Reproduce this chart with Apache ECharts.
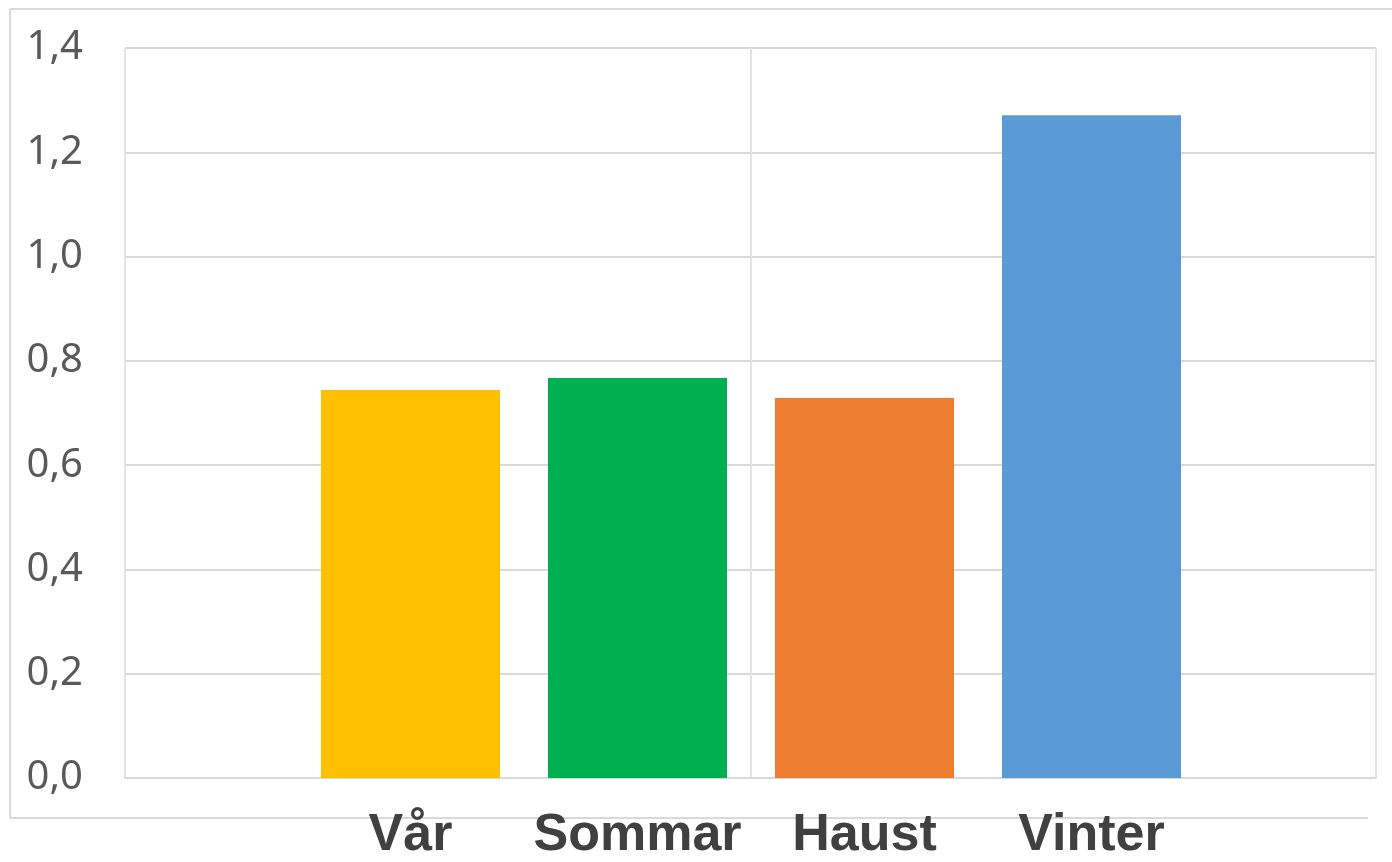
<!DOCTYPE html>
<html>
<head>
<meta charset="utf-8">
<script src="https://cdn.jsdelivr.net/npm/echarts@6/dist/echarts.min.js"></script>
<style>
  html, body { margin: 0; padding: 0; background: #fff; }
  #chart { width: 1392px; height: 862px; }
</style>
</head>
<body>
<div id="chart"></div>
<script>
// data
const seasons = ['Vår', 'Sommar', 'Haust', 'Vinter'];
const values = [0.744, 0.767, 0.729, 1.271];
const yTicks = [0, 0.2, 0.4, 0.6, 0.8, 1.0, 1.2, 1.4];

// farger per sesong
const barColors = ['#FFC000', '#00B050', '#ED7D31', '#5B9BD5'];

const myChart = echarts.init(document.getElementById('chart'));

const option = {
  backgroundColor: '#fff',
  animation: false,
  grid: [
    // ramme + rutenett
    { left: 125, right: 16, top: 48, bottom: 84 },
    // søylene
    { left: 297, right: 187, top: 48, bottom: 84 }
  ],
  xAxis: [
    {
      type: 'category',
      gridIndex: 0,
      data: ['', ''],
      axisLine: { show: true, lineStyle: { color: '#d9d9d9', width: 2 } },
      axisTick: { show: false },
      axisLabel: { show: false },
      splitLine: { show: true, lineStyle: { color: '#e4e4e4', width: 2 } }
    },
    {
      type: 'category',
      gridIndex: 1,
      data: seasons,
      axisLine: { show: false },
      axisTick: { show: false },
      splitLine: { show: false },
      axisLabel: {
        interval: 0,
        margin: 32,
        fontFamily: 'Liberation Sans, Arial, sans-serif',
        fontWeight: 'bold',
        fontSize: 52,
        lineHeight: 52,
        color: '#404040'
      }
    }
  ],
  yAxis: [
    {
      type: 'value',
      gridIndex: 0,
      min: yTicks[0],
      max: yTicks[yTicks.length - 1],
      interval: 0.2,
      axisLine: { show: false },
      axisTick: { show: false },
      axisLabel: {
        margin: 42,
        fontFamily: 'Noto Sans, sans-serif',
        fontSize: 40,
        color: '#595959',
        formatter: function (v) {
          return v.toFixed(1).replace('.', ',');
        }
      },
      splitLine: { show: true, lineStyle: { color: '#d9d9d9', width: 2 } }
    },
    {
      type: 'value',
      gridIndex: 1,
      min: yTicks[0],
      max: yTicks[yTicks.length - 1],
      interval: 0.2,
      show: false,
      splitLine: { show: false }
    }
  ],
  series: [
    {
      type: 'bar',
      xAxisIndex: 1,
      yAxisIndex: 1,
      barWidth: 179,
      data: values.map(function (v, i) {
        return { value: v, itemStyle: { color: barColors[i] } };
      })
    }
  ],
  graphic: [
    // ytre ramme
    { type: 'line', shape: { x1: 10, y1: 9, x2: 1392, y2: 9 }, style: { stroke: '#d9d9d9', lineWidth: 2 }, z: -1 },
    { type: 'line', shape: { x1: 10, y1: 9, x2: 10, y2: 818 }, style: { stroke: '#d9d9d9', lineWidth: 2 }, z: -1 },
    { type: 'line', shape: { x1: 10, y1: 818, x2: 1368, y2: 818 }, style: { stroke: '#d9d9d9', lineWidth: 2 }, z: -1 }
  ]
};

myChart.setOption(option);
</script>
</body>
</html>
